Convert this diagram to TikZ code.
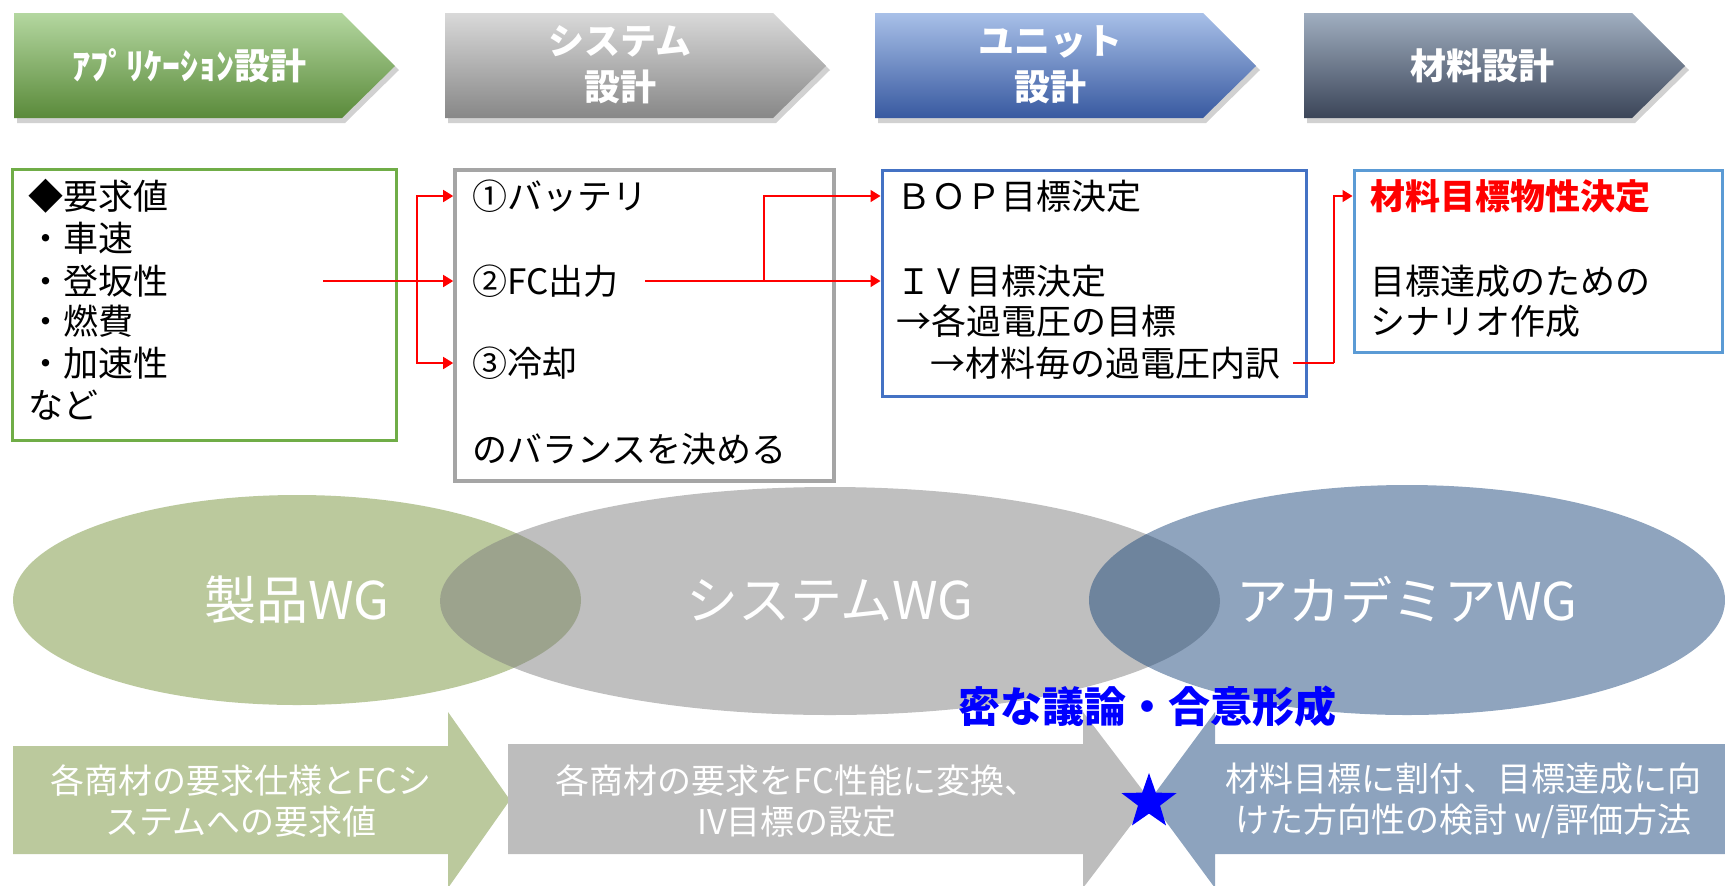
\documentclass[tikz,border=0pt]{standalone}
\usepackage{fontspec}
\setmainfont{Noto Sans CJK JP}
\usetikzlibrary{shapes.geometric,arrows.meta}
\definecolor{cgA}{HTML}{B4D7A0}\definecolor{cgB}{HTML}{5A8A3A}
\definecolor{cyA}{HTML}{D9D9D9}\definecolor{cyB}{HTML}{878787}
\definecolor{cbA}{HTML}{A8C0E8}\definecolor{cbB}{HTML}{3859A0}
\definecolor{csA}{HTML}{A0AEC0}\definecolor{csB}{HTML}{3B4558}
\definecolor{bgreen}{HTML}{70AD47}\definecolor{bgray}{HTML}{A5A5A5}
\definecolor{bblue}{HTML}{4472C4}\definecolor{blight}{HTML}{5B9BD5}
\definecolor{egreen}{HTML}{77933C}\definecolor{egray}{HTML}{7F7F7F}
\definecolor{eblue}{HTML}{1F497D}
\definecolor{agreen}{HTML}{BBC99D}\definecolor{agray}{HTML}{BDBDBD}
\definecolor{ablue}{HTML}{8DA3BE}
\begin{document}
\begin{tikzpicture}[x=0.5pt,y=-0.5pt,
  chevtext/.style={text=white,font=\bfseries\fontsize{18}{23}\selectfont,align=center,inner sep=0},
  box/.style={draw,line width=1.5pt,inner sep=0,fill=white},
  txt/.style={anchor=west,inner sep=0,font=\fontsize{17.5}{20}\selectfont},
  rline/.style={draw=red,line width=0.8pt},
  rarr/.style={draw=red,line width=0.8pt,-{Triangle[length=5pt,width=6pt]}},
  ell/.style={ellipse,inner sep=0,fill opacity=0.5,text opacity=1,text=white,font=\fontsize{26}{30}\selectfont},
  atext/.style={text=white,align=center,inner sep=0,font=\fontsize{17}{20.5}\selectfont}]
\useasboundingbox (0,0) rectangle (1725,885);
% top chevrons
\foreach \x/\ca/\cb in {14/cgA/cgB,445/cyA/cyB,875/cbA/cbB,1304/csA/csB}{
  \fill[black,opacity=0.18] (\x+3,17) -- (\x+331,17) -- (\x+385,70) -- (\x+331,123) -- (\x+3,123) -- cycle;
  \shade[top color=\ca,bottom color=\cb] (\x,13) -- (\x+328,13) -- (\x+381,66) -- (\x+328,118) -- (\x,118) -- cycle;
}
\node[chevtext] (c1) at (189,66) {ｱﾌﾟﾘｹｰｼｮﾝ設計};
\node[chevtext] (c2) at (620,65) {システム\\設計};
\node[chevtext] (c3) at (1050,65) {ユニット\\設計};
\node[chevtext] (c4) at (1482,66) {材料設計};
% boxes
\node[box,draw=bgreen,minimum width=192pt,minimum height=135.5pt] (req) at (204,304.5) {};
\node[box,draw=bgray,line width=1.8pt,minimum width=189.5pt,minimum height=155.5pt] (sys) at (644.5,325.5) {};
\node[box,draw=bblue,minimum width=212pt,minimum height=113pt] (unit) at (1094,283) {};
\node[box,draw=blight,minimum width=184pt,minimum height=91pt] (mat) at (1538,261) {};
% box texts
\node[txt] (g1) at (28,196) {◆要求値};
\node[txt] (g2) at (28,238) {・車速};
\node[txt] (g3) at (28,281) {・登坂性};
\node[txt] (g4) at (28,321) {・燃費};
\node[txt] (g5) at (28,363) {・加速性};
\node[txt] (g6) at (28,405) {など};
\node[txt] (s1) at (472,196) {①バッテリ};
\node[txt] (s2) at (472,281) {②FC出力};
\node[txt] (s3) at (472,363) {③冷却};
\node[txt] (s4) at (472,449) {のバランスを決める};
\node[txt] (u1) at (896,196) {ＢＯＰ目標決定};
\node[txt] (u2) at (896,281) {ＩＶ目標決定};
\node[txt] (u3) at (896,321) {→各過電圧の目標};
\node[txt] (u4) at (930,363) {→材料毎の過電圧内訳};
\node[txt,text=red,font=\bfseries\fontsize{17.5}{20}\selectfont] (m1) at (1370,196) {材料目標物性決定};
\node[txt] (m2) at (1370,281) {目標達成のための};
\node[txt] (m3) at (1370,321) {シナリオ作成};
% red connectors
\coordinate (r1) at (323,281);
\coordinate (j1) at (417,281);
\draw[rline] (r1) -- (j1);
\draw[rarr] (j1) -- (sys.west |- s2);
\draw[rarr] (j1) |- (sys.west |- s1);
\draw[rarr] (j1) |- (sys.west |- s3);
\coordinate (r2) at (645,281);
\coordinate (j2) at (764,281);
\draw[rline] (r2) -- (j2);
\draw[rarr] (j2) -- (unit.west |- u2);
\draw[rarr] (j2) |- (unit.west |- u1);
\coordinate (r3) at (1293,363);
\coordinate (j3) at (1334,363);
\draw[rline] (r3) -- (j3);
\draw[rarr] (j3) |- (mat.west |- m1);
% ellipses
\node[ell,fill=egreen,minimum width=284pt,minimum height=105pt] (wg1) at (297,600) {製品WG};
\node[ell,fill=egray,minimum width=390pt,minimum height=114pt] (wg2) at (830,601) {システムWG};
\node[ell,fill=eblue,minimum width=318pt,minimum height=115pt] (wg3) at (1407,600) {アカデミアWG};
% bottom arrows
\fill[agreen] (13,746) -- (448,746) -- (448,712) -- (510,800) -- (448,888) -- (448,854) -- (13,854) -- cycle;
\fill[agray] (508,744) -- (1083,744) -- (1083,712) -- (1150,800) -- (1083,888) -- (1083,854) -- (508,854) -- cycle;
\fill[ablue] (1725,744) -- (1215,744) -- (1215,712) -- (1150,800) -- (1215,888) -- (1215,854) -- (1725,854) -- cycle;
\node[atext] (t1) at (241,801) {各商材の要求仕様とFCシ\\ステムへの要求値};
\node[atext] (t2) at (797,801) {各商材の要求をFC性能に変換、\\IV目標の設定};
\node[atext] (t3) at (1463,801) {材料目標に割付、目標達成に向\\けた方向性の検討 w/評価方法};
\node[text=blue,inner sep=0,font=\bfseries\fontsize{21}{24}\selectfont] (talk) at (1147,706) {密な議論・合意形成};
\node[star,star points=5,star point ratio=2.5,fill=blue,inner sep=0,minimum size=29pt] (st) at (1149,802) {};
\end{tikzpicture}
\end{document}
